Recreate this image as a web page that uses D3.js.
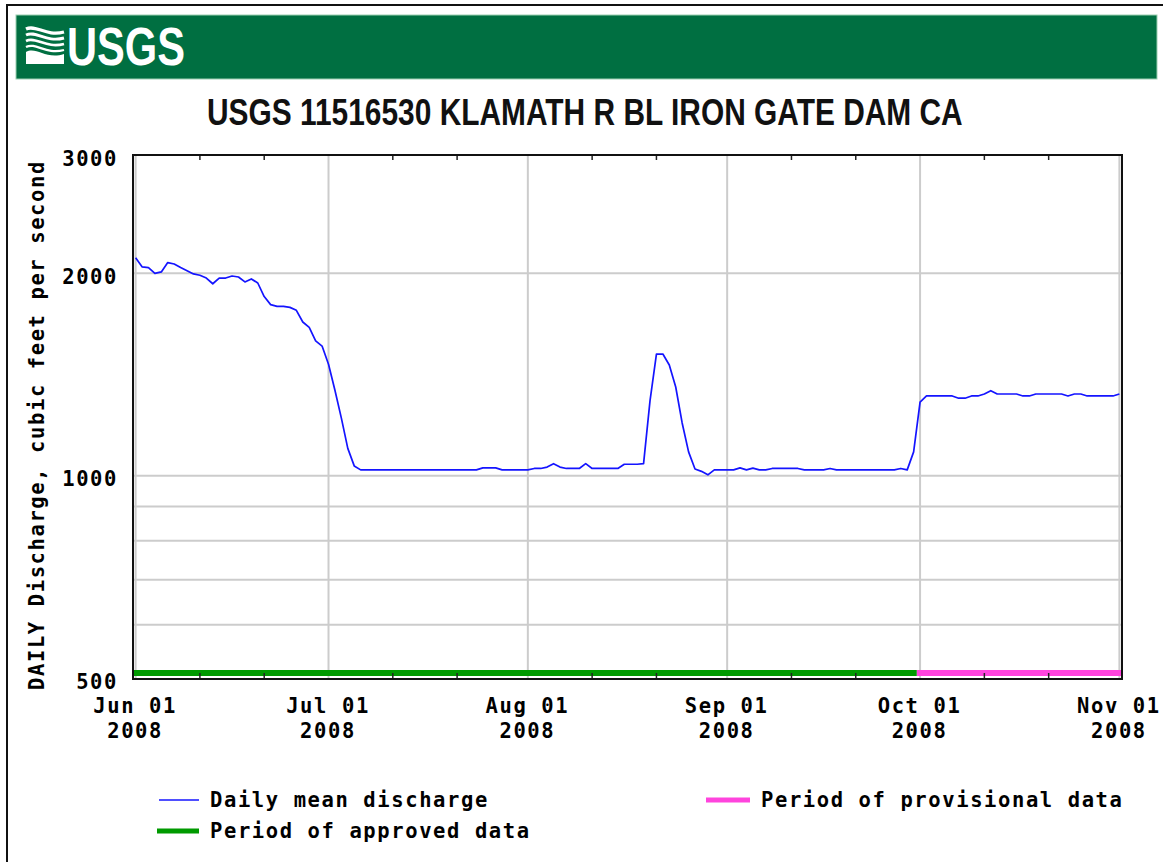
<!DOCTYPE html>
<html>
<head>
<meta charset="utf-8">
<script src="https://cdn.jsdelivr.net/npm/d3@7"></script>
<style>
  body { margin: 0; background: #fff; }
  svg { display: block; }
  .lab { font-family: 'DejaVu Sans Mono', monospace; font-weight: bold; font-size: 20.5px; letter-spacing: 1.6px; fill: #000; }
  .narrow { font-family: 'Liberation Sans Narrow', 'Arial Narrow', 'Liberation Sans', sans-serif; font-weight: bold; }
</style>
</head>
<body>
<svg width="1163" height="862"></svg>
<script>
// Station, series and labels
const stationTitle = "USGS 11516530 KLAMATH R BL IRON GATE DAM CA";
const yTitle = "DAILY Discharge, cubic feet per second";
const firstDay = "2008-06-01";
// daily mean discharge, cfs, Jun 01 .. Nov 01 2008
const dailyMean = [
  2110, 2045, 2040, 2000, 2010, 2075, 2065, 2040, 2018, 1996,
  1987, 1968, 1930, 1968, 1968, 1982, 1975, 1942, 1962, 1935,
  1847, 1797, 1786, 1786, 1780, 1762, 1693, 1662, 1587, 1559,
  1465, 1340, 1218, 1098, 1034, 1020, 1020, 1020, 1020, 1020,
  1020, 1020, 1020, 1020, 1020, 1020, 1020, 1020, 1020, 1020,
  1020, 1020, 1020, 1020, 1027, 1027, 1027, 1020, 1020, 1020,
  1020, 1020, 1025, 1025, 1030, 1042, 1030, 1025, 1025, 1025,
  1042, 1025, 1025, 1025, 1025, 1025, 1040, 1040, 1040, 1042,
  1292, 1517, 1517, 1461, 1355, 1198, 1085, 1023, 1015, 1003,
  1020, 1020, 1020, 1020, 1027, 1020, 1026, 1020, 1020, 1025,
  1025, 1025, 1025, 1025, 1020, 1020, 1020, 1020, 1025, 1020,
  1020, 1020, 1020, 1020, 1020, 1020, 1020, 1020, 1020, 1025,
  1020, 1085, 1287, 1314, 1314, 1314, 1314, 1314, 1304, 1304,
  1314, 1314, 1323, 1338, 1323, 1323, 1323, 1323, 1314, 1314,
  1323, 1323, 1323, 1323, 1323, 1314, 1323, 1323, 1314, 1314,
  1314, 1314, 1314, 1323
];
const approvedPeriod = ["2008-06-01", "2008-09-30"];
const provisionalPeriod = ["2008-10-01", "2008-11-01"];
const monthTicks = ["2008-06-01", "2008-07-01", "2008-08-01", "2008-09-01", "2008-10-01", "2008-11-01"];
const yLabelValues = [500, 1000, 2000, 3000];
const yGridValues = [600, 700, 800, 900, 1000, 2000];
const legendLabels = ["Daily mean discharge", "Period of approved data", "Period of provisional data"];

const blue = "#1414ff", green = "#009a00", pink = "#ff44dd", grid = "#cccccc";

const svg = d3.select("svg");
const plot = {left: 134, top: 155, right: 1121, bottom: 678};

const parse = d3.utcParse("%Y-%m-%d");
const start = parse(firstDay);
const series = dailyMean.map((v, i) => ({date: d3.utcDay.offset(start, i), value: v}));

const x = d3.scaleUtc()
  .domain([d3.utcHour.offset(start, -6), d3.utcHour.offset(parse("2008-11-01"), 6)])
  .range([plot.left, plot.right]);
const y = d3.scaleLog().domain([500, 3000]).range([plot.bottom, plot.top]);

// squeeze a text horizontally so it spans the wanted width
function fitWidth(sel, cx, cy, want) {
  const w = sel.node().getComputedTextLength();
  sel.attr("transform", `translate(${cx},${cy}) scale(${want / w},1)`);
}

// page frame and banner
svg.append("rect").attr("x", 7).attr("y", 5).attr("width", 1300).attr("height", 1000)
  .attr("fill", "none").attr("stroke", "#111").attr("stroke-width", 2);
svg.append("rect").attr("x", 16).attr("y", 15).attr("width", 1141).attr("height", 64)
  .attr("fill", "#006f41").attr("stroke", "#9ccfb2").attr("stroke-width", 1);

// USGS wave mark
const logo = svg.append("g");
logo.append("path")
  .attr("d", "M26,52 C36,46 46,60 64,54 L64,64 L26,64 Z")
  .attr("fill", "#fff");
[29, 35, 41, 47].forEach((w, i) => {
  logo.append("path")
    .attr("d", `M26,${w} C36,${w - 5} 46,${w + 8} 64,${w + 3}`)
    .attr("fill", "none").attr("stroke", "#fff").attr("stroke-width", 3.2 - i * 0.3);
});
const logoText = logo.append("text").attr("class", "narrow")
  .attr("font-size", 53).attr("fill", "#fff")
  .text("USGS");
fitWidth(logoText, 67, 65, 118);

// title
const title = svg.append("text").attr("class", "narrow")
  .attr("font-size", 37).attr("fill", "#111")
  .text(stationTitle);
fitWidth(title, 207, 125, 756);

// grid
svg.append("g").selectAll("line").data(yGridValues).join("line")
  .attr("x1", plot.left).attr("x2", plot.right)
  .attr("y1", d => y(d)).attr("y2", d => y(d))
  .attr("stroke", grid).attr("stroke-width", 2);
svg.append("g").selectAll("line").data(monthTicks.map(parse)).join("line")
  .attr("x1", d => x(d)).attr("x2", d => x(d))
  .attr("y1", plot.top).attr("y2", plot.bottom)
  .attr("stroke", grid).attr("stroke-width", 2);

// approved / provisional bars
const clampX = d => Math.max(plot.left, Math.min(plot.right, d));
const periods = [
  {p: approvedPeriod, color: green},
  {p: provisionalPeriod, color: pink}
];
svg.append("g").selectAll("line").data(periods).join("line")
  .attr("x1", d => clampX(x(d3.utcHour.offset(parse(d.p[0]), -12))))
  .attr("x2", d => clampX(x(d3.utcHour.offset(parse(d.p[1]), 12))))
  .attr("y1", plot.bottom - 5).attr("y2", plot.bottom - 5)
  .attr("stroke", d => d.color).attr("stroke-width", 6);

// discharge line
svg.append("path").datum(series)
  .attr("fill", "none").attr("stroke", blue).attr("stroke-width", 1.7)
  .attr("stroke-linejoin", "round")
  .attr("d", d3.line().x(d => x(d.date)).y(d => y(d.value)));

// minor ticks, 11th and 21st of each month, top and bottom
const minor = d3.utcDay.range(start, parse("2008-11-01")).filter(d => d.getUTCDate() === 11 || d.getUTCDate() === 21);
const tk = svg.append("g").attr("stroke", "#222").attr("stroke-width", 1.5);
tk.selectAll(".b").data(minor).join("line").attr("class", "b")
  .attr("x1", d => x(d)).attr("x2", d => x(d))
  .attr("y1", plot.bottom).attr("y2", plot.bottom - 5);
tk.selectAll(".t").data(minor).join("line").attr("class", "t")
  .attr("x1", d => x(d)).attr("x2", d => x(d))
  .attr("y1", plot.top).attr("y2", plot.top + 5);

// plot frame
svg.append("rect")
  .attr("x", plot.left - 1).attr("y", plot.top)
  .attr("width", plot.right - plot.left + 2).attr("height", plot.bottom - plot.top + 1)
  .attr("fill", "none").attr("stroke", "#111").attr("stroke-width", 2);

// y axis labels
const yAxis = svg.append("g").attr("transform", `translate(${plot.left},0)`)
  .call(d3.axisLeft(y).tickValues(yLabelValues).tickFormat(d3.format("d")).tickSize(0).tickPadding(16));
yAxis.select(".domain").remove();
yAxis.selectAll("text").attr("class", "lab").attr("dy", 10);

// x axis labels, two lines each
const xAxis = svg.append("g").attr("transform", `translate(0,${plot.bottom})`)
  .call(d3.axisBottom(x).tickValues(monthTicks.map(parse)).tickSize(0).tickFormat(""));
xAxis.select(".domain").remove();
xAxis.selectAll(".tick text").each(function(d) {
  const t = d3.select(this).attr("y", null).attr("dy", null).attr("class", "lab");
  t.append("tspan").attr("x", -1).attr("y", 35).text(d3.utcFormat("%b %d")(d));
  t.append("tspan").attr("x", -1).attr("y", 60).text(d3.utcFormat("%Y")(d));
});

// y axis title
svg.append("text").attr("class", "lab")
  .attr("transform", "translate(44,425) rotate(-90)")
  .attr("text-anchor", "middle")
  .text(yTitle);

// legend
const legend = [
  {label: legendLabels[0], color: blue, w: 1.7, x: 159, y: 800, len: 40},
  {label: legendLabels[1], color: green, w: 5, x: 157, y: 831, len: 42},
  {label: legendLabels[2], color: pink, w: 5, x: 706, y: 800, len: 44}
];
const lg = svg.append("g").selectAll("g").data(legend).join("g")
  .attr("transform", d => `translate(${d.x},${d.y})`);
lg.append("line").attr("x1", 0).attr("x2", d => d.len)
  .attr("stroke", d => d.color).attr("stroke-width", d => d.w);
lg.append("text").attr("class", "lab")
  .attr("x", d => d.len + 11).attr("y", 7)
  .text(d => d.label);
</script>
</body>
</html>
